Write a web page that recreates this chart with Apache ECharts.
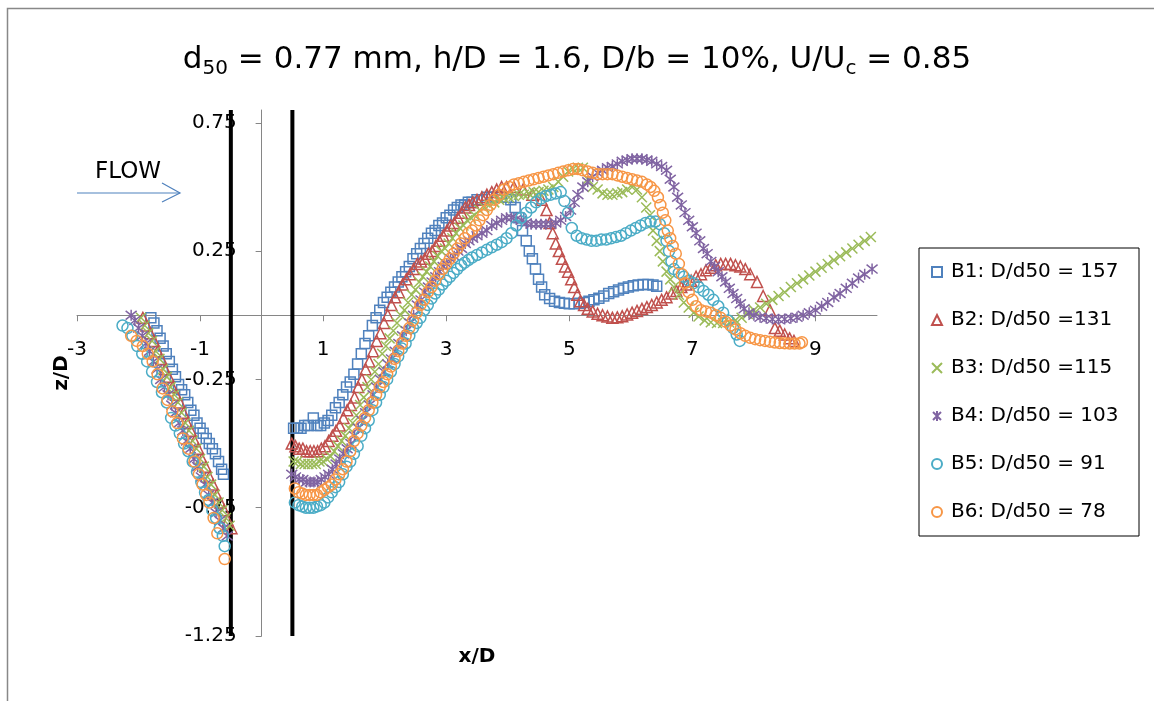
<!DOCTYPE html>
<html><head><meta charset="utf-8">
<script src="https://cdn.jsdelivr.net/npm/echarts@6/dist/echarts.min.js"></script>
<style>html,body{margin:0;padding:0;background:#fff}#c{width:1154px;height:701px}</style>
</head><body><div id="c"></div>
<script>
// x/D ticks and z/D ticks
const xTicks = [-3, -1, 1, 3, 5, 7, 9];
const yTicks = [-1.25, -0.75, -0.25, 0.25, 0.75];
const pierEdgeX = [-0.5, 0.5];
const seriesNames = ['B1: D/d50 = 157', 'B2: D/d50 =131', 'B3: D/d50 =115', 'B4: D/d50 = 103', 'B5: D/d50 = 91', 'B6: D/d50 = 78'];
const seriesColors = ['#4F81BD', '#C0504D', '#9BBB59', '#8064A2', '#4BACC6', '#F79646'];

// [x/D, z/D] pairs
const B1 = [[-1.80,-0.01],[-1.75,-0.03],[-1.70,-0.06],[-1.65,-0.09],[-1.60,-0.12],[-1.55,-0.15],[-1.50,-0.18],[-1.45,-0.21],[-1.40,-0.24],[-1.35,-0.27],[-1.30,-0.29],[-1.25,-0.31],[-1.20,-0.34],[-1.15,-0.37],[-1.10,-0.39],[-1.05,-0.42],[-1.00,-0.44],[-0.95,-0.46],[-0.90,-0.48],[-0.85,-0.50],[-0.80,-0.52],[-0.75,-0.54],[-0.70,-0.57],[-0.65,-0.60],[-0.62,-0.62],
[0.52,-0.44],[0.58,-0.44],[0.64,-0.44],[0.70,-0.43],[0.76,-0.43],[0.84,-0.40],[0.90,-0.43],[0.96,-0.43],[1.02,-0.42],[1.08,-0.41],[1.14,-0.39],[1.20,-0.36],[1.26,-0.34],[1.32,-0.31],[1.38,-0.28],[1.44,-0.26],[1.50,-0.23],[1.56,-0.19],[1.62,-0.15],[1.68,-0.11],[1.74,-0.08],[1.80,-0.04],[1.86,-0.01],[1.92,0.02],[1.98,0.05],[2.04,0.07],[2.10,0.09],[2.16,0.11],[2.22,0.13],[2.28,0.15],[2.34,0.17],[2.40,0.19],[2.46,0.22],[2.52,0.24],[2.58,0.26],[2.64,0.28],[2.70,0.30],[2.76,0.32],[2.82,0.33],[2.88,0.35],[2.94,0.36],[3.00,0.38],[3.06,0.39],[3.12,0.41],[3.18,0.42],[3.24,0.43],[3.30,0.43],[3.36,0.44],[3.42,0.44],[3.50,0.45],[3.58,0.45],[3.66,0.46],[3.74,0.46],[3.82,0.46],[3.90,0.46],[3.98,0.46],[4.05,0.45],[4.12,0.42],[4.18,0.38],[4.24,0.33],[4.30,0.29],[4.35,0.25],[4.40,0.22],[4.45,0.18],[4.50,0.14],[4.55,0.11],[4.60,0.08],[4.68,0.065],[4.76,0.055],[4.84,0.05],[4.92,0.047],[5.00,0.045],[5.08,0.045],[5.16,0.047],[5.24,0.05],[5.32,0.055],[5.40,0.06],[5.48,0.066],[5.56,0.075],[5.64,0.085],[5.72,0.092],[5.80,0.098],[5.88,0.105],[5.96,0.11],[6.04,0.115],[6.12,0.118],[6.20,0.12],[6.28,0.12],[6.36,0.118],[6.42,0.113]];

const B2 = [[-1.93,-0.01],[-1.87,-0.04],[-1.81,-0.07],[-1.75,-0.10],[-1.69,-0.14],[-1.63,-0.17],[-1.57,-0.21],[-1.51,-0.24],[-1.45,-0.28],[-1.39,-0.31],[-1.33,-0.34],[-1.27,-0.38],[-1.21,-0.42],[-1.15,-0.45],[-1.09,-0.49],[-1.03,-0.52],[-0.97,-0.56],[-0.91,-0.59],[-0.85,-0.63],[-0.79,-0.66],[-0.73,-0.70],[-0.67,-0.73],[-0.61,-0.76],[-0.55,-0.80],[-0.49,-0.83],
[0.49,-0.50],[0.55,-0.51],[0.61,-0.52],[0.67,-0.52],[0.73,-0.53],[0.79,-0.53],[0.85,-0.53],[0.91,-0.53],[0.97,-0.52],[1.03,-0.51],[1.09,-0.49],[1.15,-0.47],[1.21,-0.45],[1.27,-0.43],[1.33,-0.40],[1.39,-0.37],[1.45,-0.35],[1.51,-0.32],[1.57,-0.28],[1.63,-0.25],[1.69,-0.21],[1.75,-0.18],[1.81,-0.14],[1.87,-0.10],[1.93,-0.07],[1.99,-0.03],[2.05,0.00],[2.11,0.04],[2.17,0.07],[2.23,0.09],[2.29,0.12],[2.35,0.14],[2.41,0.16],[2.47,0.18],[2.53,0.20],[2.59,0.21],[2.65,0.22],[2.71,0.24],[2.77,0.25],[2.83,0.27],[2.89,0.29],[2.95,0.31],[3.01,0.33],[3.07,0.35],[3.13,0.36],[3.19,0.38],[3.25,0.40],[3.31,0.42],[3.37,0.43],[3.43,0.44],[3.50,0.45],[3.58,0.46],[3.66,0.47],[3.74,0.48],[3.82,0.49],[3.90,0.50],[3.98,0.50],[4.10,0.50],[4.25,0.49],[4.40,0.47],[4.55,0.45],[4.63,0.41],[4.68,0.36],[4.73,0.32],[4.78,0.28],[4.83,0.25],[4.88,0.22],[4.93,0.19],[4.98,0.17],[5.03,0.14],[5.08,0.11],[5.13,0.08],[5.18,0.055],[5.24,0.04],[5.30,0.025],[5.38,0.015],[5.46,0.006],[5.54,0.0],[5.62,-0.005],[5.70,-0.01],[5.78,-0.008],[5.86,-0.004],[5.94,0.003],[6.02,0.01],[6.10,0.017],[6.18,0.025],[6.26,0.032],[6.34,0.04],[6.42,0.05],[6.50,0.06],[6.58,0.07],[6.66,0.085],[6.74,0.095],[6.82,0.11],[6.90,0.12],[6.98,0.135],[7.06,0.15],[7.14,0.16],[7.22,0.175],[7.30,0.185],[7.38,0.195],[7.46,0.2],[7.54,0.2],[7.62,0.2],[7.70,0.195],[7.78,0.19],[7.86,0.18],[7.94,0.16],[8.05,0.13],[8.15,0.075],[8.26,0.02],[8.34,-0.05],[8.42,-0.06],[8.50,-0.075],[8.58,-0.09],[8.65,-0.10]];

const B3 = [[-1.96,-0.01],[-1.90,-0.04],[-1.84,-0.07],[-1.78,-0.10],[-1.72,-0.14],[-1.66,-0.17],[-1.60,-0.21],[-1.54,-0.24],[-1.48,-0.28],[-1.42,-0.31],[-1.36,-0.34],[-1.30,-0.38],[-1.24,-0.42],[-1.18,-0.45],[-1.12,-0.49],[-1.06,-0.52],[-1.00,-0.56],[-0.94,-0.59],[-0.88,-0.63],[-0.82,-0.66],[-0.76,-0.70],[-0.70,-0.73],[-0.64,-0.76],[-0.58,-0.79],[-0.52,-0.82],
[0.52,-0.57],[0.58,-0.57],[0.64,-0.58],[0.70,-0.58],[0.76,-0.58],[0.82,-0.58],[0.88,-0.58],[0.94,-0.57],[1.00,-0.57],[1.06,-0.56],[1.12,-0.55],[1.18,-0.53],[1.24,-0.51],[1.30,-0.49],[1.36,-0.47],[1.42,-0.44],[1.48,-0.42],[1.54,-0.39],[1.60,-0.35],[1.66,-0.32],[1.72,-0.28],[1.78,-0.25],[1.84,-0.22],[1.90,-0.19],[1.96,-0.15],[2.02,-0.12],[2.08,-0.09],[2.14,-0.06],[2.20,-0.03],[2.26,0.00],[2.32,0.02],[2.38,0.05],[2.44,0.08],[2.50,0.10],[2.56,0.13],[2.62,0.15],[2.68,0.17],[2.74,0.19],[2.80,0.21],[2.86,0.23],[2.92,0.25],[2.98,0.26],[3.04,0.28],[3.10,0.30],[3.16,0.32],[3.22,0.34],[3.28,0.35],[3.34,0.37],[3.40,0.38],[3.46,0.39],[3.54,0.41],[3.62,0.42],[3.70,0.43],[3.78,0.44],[3.86,0.45],[3.94,0.455],[4.02,0.46],[4.10,0.465],[4.18,0.47],[4.26,0.47],[4.34,0.475],[4.42,0.48],[4.50,0.48],[4.58,0.485],[4.66,0.49],[4.74,0.50],[4.82,0.52],[4.90,0.54],[4.98,0.56],[5.06,0.57],[5.14,0.575],[5.22,0.575],[5.30,0.53],[5.38,0.50],[5.46,0.49],[5.54,0.475],[5.62,0.47],[5.70,0.47],[5.78,0.475],[5.86,0.48],[5.94,0.49],[6.02,0.50],[6.10,0.49],[6.18,0.46],[6.25,0.42],[6.31,0.39],[6.36,0.33],[6.42,0.29],[6.47,0.25],[6.52,0.21],[6.58,0.17],[6.64,0.14],[6.70,0.11],[6.78,0.08],[6.86,0.05],[6.94,0.03],[7.02,0.01],[7.10,-0.005],[7.20,-0.02],[7.30,-0.027],[7.40,-0.03],[7.50,-0.03],[7.60,-0.028],[7.70,-0.02],[7.80,-0.01],[7.90,0.005],[8.00,0.02],[8.10,0.03],[8.20,0.045],[8.30,0.06],[8.40,0.075],[8.50,0.09],[8.60,0.11],[8.70,0.125],[8.80,0.14],[8.90,0.155],[9.00,0.17],[9.10,0.185],[9.20,0.2],[9.30,0.215],[9.40,0.23],[9.50,0.245],[9.60,0.26],[9.70,0.275],[9.80,0.29],[9.90,0.305]];

const B4 = [[-2.12,0.0],[-2.06,-0.02],[-2.00,-0.05],[-1.94,-0.08],[-1.88,-0.11],[-1.82,-0.14],[-1.76,-0.18],[-1.70,-0.21],[-1.64,-0.25],[-1.58,-0.28],[-1.52,-0.31],[-1.46,-0.35],[-1.40,-0.38],[-1.34,-0.42],[-1.28,-0.45],[-1.22,-0.49],[-1.16,-0.52],[-1.10,-0.56],[-1.04,-0.59],[-0.98,-0.63],[-0.92,-0.66],[-0.86,-0.70],[-0.80,-0.73],[-0.74,-0.77],[-0.68,-0.80],[-0.62,-0.83],[-0.56,-0.86],
[0.49,-0.62],[0.55,-0.63],[0.61,-0.64],[0.67,-0.64],[0.73,-0.65],[0.79,-0.65],[0.85,-0.65],[0.91,-0.65],[0.97,-0.64],[1.03,-0.63],[1.09,-0.62],[1.15,-0.60],[1.21,-0.58],[1.27,-0.56],[1.33,-0.54],[1.39,-0.52],[1.45,-0.50],[1.51,-0.47],[1.57,-0.44],[1.63,-0.41],[1.69,-0.38],[1.75,-0.35],[1.81,-0.31],[1.87,-0.28],[1.93,-0.25],[1.99,-0.22],[2.05,-0.19],[2.11,-0.17],[2.17,-0.14],[2.23,-0.11],[2.29,-0.08],[2.35,-0.06],[2.41,-0.03],[2.47,0.00],[2.53,0.04],[2.59,0.06],[2.65,0.09],[2.71,0.11],[2.77,0.13],[2.83,0.15],[2.89,0.17],[2.95,0.19],[3.01,0.20],[3.07,0.22],[3.13,0.23],[3.19,0.25],[3.25,0.26],[3.31,0.28],[3.37,0.29],[3.43,0.30],[3.50,0.31],[3.58,0.32],[3.66,0.33],[3.74,0.35],[3.82,0.36],[3.90,0.37],[3.98,0.38],[4.06,0.38],[4.14,0.375],[4.22,0.37],[4.30,0.36],[4.38,0.355],[4.46,0.355],[4.54,0.355],[4.62,0.355],[4.70,0.355],[4.78,0.36],[4.86,0.37],[4.94,0.385],[5.02,0.41],[5.08,0.44],[5.14,0.47],[5.22,0.50],[5.30,0.52],[5.38,0.54],[5.46,0.555],[5.54,0.565],[5.62,0.575],[5.70,0.58],[5.78,0.59],[5.86,0.60],[5.94,0.605],[6.02,0.61],[6.10,0.61],[6.18,0.61],[6.26,0.605],[6.34,0.60],[6.42,0.59],[6.50,0.58],[6.58,0.565],[6.64,0.53],[6.70,0.50],[6.76,0.46],[6.82,0.43],[6.88,0.40],[6.94,0.37],[7.00,0.345],[7.06,0.32],[7.12,0.29],[7.18,0.26],[7.24,0.24],[7.30,0.21],[7.36,0.19],[7.42,0.17],[7.48,0.15],[7.54,0.13],[7.60,0.105],[7.66,0.085],[7.72,0.065],[7.78,0.045],[7.84,0.025],[7.92,0.01],[8.00,0.0],[8.10,-0.008],[8.20,-0.012],[8.30,-0.015],[8.40,-0.016],[8.50,-0.015],[8.60,-0.012],[8.70,-0.008],[8.80,0.0],[8.90,0.01],[9.00,0.02],[9.10,0.035],[9.20,0.05],[9.30,0.07],[9.40,0.085],[9.50,0.105],[9.60,0.125],[9.70,0.145],[9.80,0.16],[9.92,0.18]];

const B5 = [[-2.26,-0.04],[-2.18,-0.05],[-2.10,-0.08],[-2.02,-0.12],[-1.94,-0.15],[-1.86,-0.18],[-1.78,-0.22],[-1.70,-0.26],[-1.62,-0.30],[-1.54,-0.34],[-1.47,-0.40],[-1.40,-0.43],[-1.33,-0.46],[-1.26,-0.50],[-1.19,-0.53],[-1.12,-0.57],[-1.05,-0.61],[-0.98,-0.65],[-0.92,-0.69],[-0.86,-0.72],[-0.80,-0.76],[-0.74,-0.79],[-0.68,-0.83],[-0.63,-0.86],[-0.60,-0.90],
[0.54,-0.73],[0.60,-0.74],[0.66,-0.745],[0.72,-0.75],[0.78,-0.75],[0.84,-0.75],[0.90,-0.745],[0.96,-0.74],[1.02,-0.73],[1.08,-0.71],[1.14,-0.69],[1.20,-0.67],[1.26,-0.65],[1.32,-0.62],[1.38,-0.59],[1.44,-0.57],[1.50,-0.54],[1.56,-0.51],[1.62,-0.47],[1.68,-0.44],[1.74,-0.41],[1.80,-0.37],[1.86,-0.34],[1.92,-0.31],[1.98,-0.28],[2.04,-0.25],[2.10,-0.22],[2.16,-0.19],[2.22,-0.16],[2.28,-0.13],[2.34,-0.11],[2.40,-0.08],[2.46,-0.05],[2.52,-0.03],[2.58,-0.01],[2.64,0.02],[2.70,0.04],[2.76,0.065],[2.82,0.085],[2.88,0.10],[2.94,0.12],[3.00,0.135],[3.06,0.15],[3.12,0.165],[3.18,0.18],[3.24,0.195],[3.30,0.205],[3.36,0.215],[3.42,0.225],[3.50,0.235],[3.58,0.245],[3.66,0.255],[3.74,0.265],[3.82,0.275],[3.90,0.285],[3.98,0.30],[4.06,0.32],[4.14,0.35],[4.22,0.38],[4.30,0.40],[4.38,0.42],[4.46,0.44],[4.54,0.455],[4.62,0.465],[4.70,0.47],[4.78,0.475],[4.86,0.48],[4.92,0.445],[4.98,0.40],[5.04,0.34],[5.12,0.31],[5.20,0.30],[5.28,0.295],[5.36,0.29],[5.44,0.29],[5.52,0.295],[5.60,0.295],[5.68,0.30],[5.76,0.305],[5.84,0.31],[5.92,0.32],[6.00,0.33],[6.08,0.34],[6.16,0.35],[6.24,0.36],[6.32,0.365],[6.40,0.365],[6.47,0.355],[6.54,0.32],[6.58,0.29],[6.62,0.25],[6.66,0.21],[6.70,0.18],[6.78,0.165],[6.86,0.15],[6.94,0.135],[7.02,0.125],[7.10,0.11],[7.18,0.095],[7.26,0.08],[7.34,0.06],[7.42,0.035],[7.50,0.01],[7.58,-0.02],[7.66,-0.05],[7.72,-0.075],[7.77,-0.10]];

const B6 = [[-2.12,-0.08],[-2.03,-0.10],[-1.93,-0.12],[-1.85,-0.15],[-1.77,-0.18],[-1.69,-0.23],[-1.61,-0.285],[-1.53,-0.33],[-1.45,-0.375],[-1.37,-0.42],[-1.28,-0.48],[-1.19,-0.52],[-1.09,-0.57],[-1.02,-0.62],[-0.96,-0.66],[-0.90,-0.70],[-0.85,-0.73],[-0.78,-0.79],[-0.72,-0.85],[-0.60,-0.95],
[0.54,-0.675],[0.60,-0.69],[0.66,-0.695],[0.72,-0.70],[0.78,-0.70],[0.84,-0.70],[0.90,-0.70],[0.96,-0.69],[1.02,-0.68],[1.08,-0.67],[1.14,-0.66],[1.20,-0.64],[1.26,-0.62],[1.32,-0.60],[1.38,-0.57],[1.44,-0.53],[1.50,-0.49],[1.56,-0.46],[1.62,-0.43],[1.68,-0.40],[1.74,-0.37],[1.80,-0.34],[1.86,-0.31],[1.92,-0.28],[1.98,-0.26],[2.04,-0.23],[2.10,-0.20],[2.16,-0.17],[2.22,-0.14],[2.28,-0.11],[2.34,-0.08],[2.40,-0.05],[2.46,-0.02],[2.52,0.01],[2.58,0.04],[2.64,0.06],[2.70,0.09],[2.76,0.11],[2.82,0.135],[2.88,0.16],[2.94,0.18],[3.00,0.20],[3.06,0.22],[3.12,0.24],[3.18,0.26],[3.24,0.28],[3.30,0.30],[3.36,0.32],[3.42,0.33],[3.48,0.35],[3.54,0.37],[3.60,0.39],[3.66,0.41],[3.72,0.43],[3.78,0.45],[3.86,0.47],[3.94,0.49],[4.02,0.50],[4.10,0.51],[4.18,0.515],[4.26,0.52],[4.34,0.525],[4.42,0.53],[4.50,0.535],[4.58,0.54],[4.66,0.545],[4.74,0.55],[4.82,0.555],[4.90,0.56],[4.98,0.565],[5.06,0.57],[5.14,0.57],[5.22,0.565],[5.30,0.56],[5.38,0.555],[5.46,0.55],[5.54,0.55],[5.62,0.55],[5.70,0.55],[5.78,0.545],[5.86,0.54],[5.94,0.535],[6.02,0.53],[6.10,0.525],[6.18,0.52],[6.26,0.51],[6.32,0.50],[6.38,0.485],[6.44,0.46],[6.48,0.43],[6.52,0.40],[6.56,0.37],[6.60,0.33],[6.64,0.30],[6.68,0.27],[6.73,0.24],[6.78,0.2],[6.83,0.16],[6.88,0.125],[6.94,0.09],[7.00,0.06],[7.06,0.035],[7.14,0.02],[7.22,0.015],[7.30,0.01],[7.38,0.0],[7.46,-0.01],[7.54,-0.025],[7.62,-0.04],[7.70,-0.055],[7.78,-0.07],[7.86,-0.08],[7.94,-0.088],[8.02,-0.093],[8.10,-0.097],[8.18,-0.10],[8.26,-0.103],[8.34,-0.106],[8.42,-0.108],[8.50,-0.109],[8.58,-0.11],[8.66,-0.11],[8.74,-0.11],[8.78,-0.105]];

const seriesData = [B1, B2, B3, B4, B5, B6];
const X_MIN = -3, X_MAX = 10, Y_MIN = -1.25, Y_MAX = 0.8;

const FONT = '"DejaVu Sans", "Liberation Sans", sans-serif';
const symbols = ['rect', 'triangle', 'path://M0,0L10,10M10,0L0,10', 'path://M1,1L9,9M9,1L1,9M5,0L5,10', 'circle', 'circle'];
const sizes = [10, 11, 10, 11, 11, 11];

// plot-area layout (pixels)
const G = {left: 77, right: 277, top: 110, bottom: 65};
const plotW = 1154 - G.left - G.right;
const plotH = 701 - G.top - G.bottom;
// move the axes so they cross at zero (labels travel with them)
const xAxisOffset = -plotH * (0 - Y_MIN) / (Y_MAX - Y_MIN);
const yAxisOffset = -plotW * (0 - X_MIN) / (X_MAX - X_MIN);

const chart = echarts.init(document.getElementById('c'), null, {renderer: 'canvas'});

const series = [];
pierEdgeX.forEach((px, i) => {
  series.push({
    name: 'pier' + i, type: 'line', silent: true, symbol: 'none', z: 1,
    data: [[px, Y_MIN], [px, Y_MAX]],
    lineStyle: {color: '#000', width: 4}
  });
});
seriesNames.forEach((n, i) => {
  series.push({
    name: n, type: 'scatter', data: seriesData[i], symbol: symbols[i], symbolSize: sizes[i], z: 3,
    itemStyle: {color: 'rgba(255,255,255,0)', borderColor: seriesColors[i], borderWidth: 1.5, opacity: 1},
    emphasis: {disabled: true}
  });
});

chart.setOption({
  animation: false,
  backgroundColor: '#fff',
  textStyle: {fontFamily: FONT},
  title: {
    left: 'center', top: 36,
    text: '{n|d}{s|50}{n| = 0.77 mm, h/D = 1.6, D/b = 10%, U/U}{s|c}{n| = 0.85}',
    textStyle: {
      fontWeight: 'normal',
      rich: {
        n: {fontFamily: FONT, fontSize: 31, fontWeight: 'normal', color: '#000', lineHeight: 38},
        s: {fontFamily: FONT, fontSize: 20, fontWeight: 'normal', color: '#000', lineHeight: 38, padding: [17, 0, 0, 0]}
      }
    }
  },
  grid: {left: G.left, right: G.right, top: G.top, bottom: G.bottom, containLabel: false, outerBoundsMode: 'none'},
  legend: {
    data: seriesNames, orient: 'vertical', left: 919, top: 248,
    backgroundColor: '#fff', borderColor: '#000', borderWidth: 1,
    padding: [12, 10, 12, 12], itemGap: 24, itemWidth: 10, itemHeight: 10,
    selectedMode: false,
    textStyle: {fontFamily: FONT, fontSize: 20, color: '#000', lineHeight: 24, padding: [0, 0, 0, 4], width: 178}
  },
  xAxis: {
    type: 'value', min: X_MIN, max: X_MAX, interval: 2, position: 'bottom', offset: xAxisOffset,
    name: 'x/D', nameLocation: 'middle', nameGap: 332,
    nameTextStyle: {fontFamily: FONT, fontSize: 20, fontWeight: 'bold', color: '#000'},
    axisLine: {onZero: false, lineStyle: {color: '#868686', width: 1}},
    axisTick: {show: true, length: 6, customValues: xTicks, lineStyle: {color: '#868686'}},
    axisLabel: {customValues: xTicks, margin: 25, fontFamily: FONT, fontSize: 20, color: '#000'},
    splitLine: {show: false}
  },
  yAxis: {
    type: 'value', min: Y_MIN, max: Y_MAX, interval: 0.5, position: 'left', offset: yAxisOffset,
    name: 'z/D', nameLocation: 'middle', nameGap: 190, nameRotate: 90,
    nameTextStyle: {fontFamily: FONT, fontSize: 20, fontWeight: 'bold', color: '#000'},
    axisLine: {onZero: false, lineStyle: {color: '#868686', width: 1}},
    axisTick: {show: true, length: 6, customValues: yTicks, lineStyle: {color: '#868686'}},
    axisLabel: {customValues: yTicks, margin: 25, fontFamily: FONT, fontSize: 20, color: '#000',
      formatter: v => String(v)},
    splitLine: {show: false}
  },
  graphic: [
    {type: 'rect', shape: {x: 7.5, y: 8.5, width: 1200, height: 800}, style: {fill: 'none', stroke: '#888', lineWidth: 1.5}, silent: true, z: 0},
    {type: 'text', left: 95, top: 161, style: {text: 'FLOW', font: '23px ' + FONT, fill: '#000'}, silent: true},
    {type: 'polyline', shape: {points: [[77, 193], [180, 193]]}, style: {stroke: '#4F81BD', lineWidth: 1.2, fill: 'none'}, silent: true},
    {type: 'polyline', shape: {points: [[162, 183], [180, 193], [162, 202]]}, style: {stroke: '#4F81BD', lineWidth: 1.2, fill: 'none'}, silent: true}
  ],
  series: series
});
</script>
</body></html>
